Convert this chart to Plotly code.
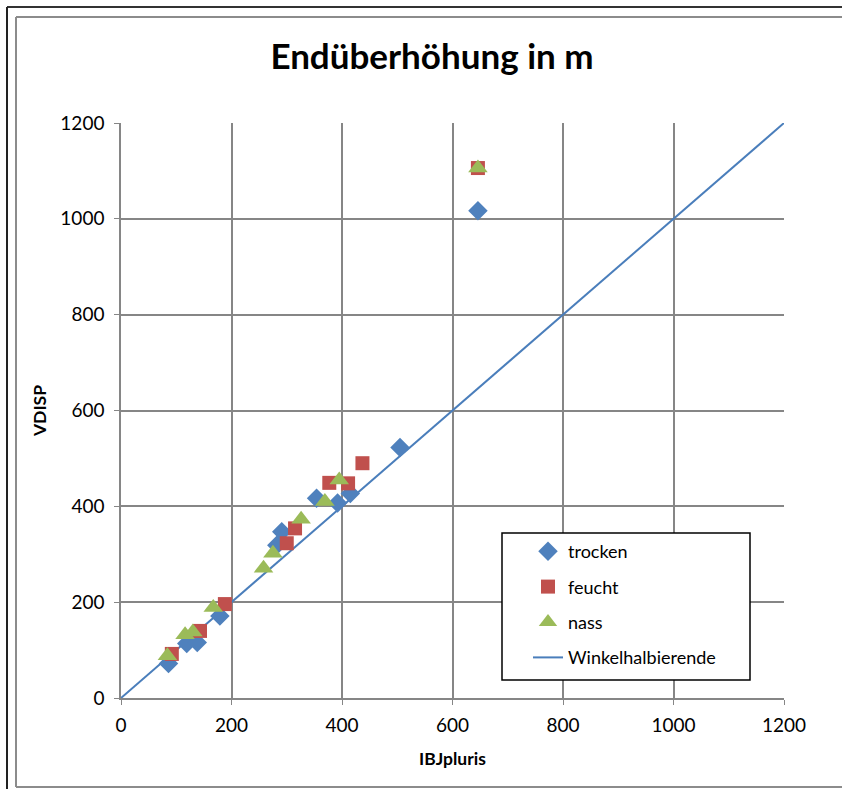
import plotly.graph_objects as go

# Endüberhöhung: VDISP vs. IBJpluris for three moisture states
trocken_x = [86, 119, 138, 179, 282, 291, 354, 392, 415, 505, 646]
trocken_y = [72, 114, 116, 171, 319, 347, 417, 407, 427, 523, 1017]

feucht_x = [92, 143, 188, 300, 315, 377, 411, 437, 646]
feucht_y = [92, 140, 196, 323, 354, 449, 448, 490, 1106]

nass_x = [84, 116, 130, 167, 258, 275, 326, 369, 395, 646]
nass_y = [88, 132, 138, 189, 271, 302, 373, 410, 455, 1106]

diag = [0, 1200]
ticks = [0, 200, 400, 600, 800, 1000, 1200]

FONT = "Lato"
GRID = "#868686"

fig = go.Figure()
# diagonal first so it sits beneath the markers; legendrank puts it last in the legend
fig.add_trace(go.Scatter(x=diag, y=diag, mode="lines", name="Winkelhalbierende",
                         legendgroup="d", legendrank=4,
                         line=dict(color="#4A7EBB", width=2)))
fig.add_trace(go.Scatter(x=trocken_x, y=trocken_y, mode="markers", name="trocken",
                         legendgroup="a", legendrank=1,
                         marker=dict(symbol="diamond", size=15, color="#4F81BD")))
fig.add_trace(go.Scatter(x=feucht_x, y=feucht_y, mode="markers", name="feucht",
                         legendgroup="b", legendrank=2,
                         marker=dict(symbol="square", size=14, color="#C0504D")))
fig.add_trace(go.Scatter(x=nass_x, y=nass_y, mode="markers", name="nass",
                         legendgroup="c", legendrank=3,
                         marker=dict(symbol="triangle-up", size=17, color="#9BBB59")))

# pixel helpers relative to the plot area
L, R, T, B = 121, 784, 123, 698
def px_x(p):
    return (p - L) / (R - L)
def px_y(p):
    return (B - p) / (B - T)

shapes = [
    # chart frame lines (outer dark, inner grey)
    dict(type="line", xref="paper", yref="paper", x0=px_x(7), x1=px_x(842), y0=px_y(7), y1=px_y(7),
         line=dict(color="#333333", width=2)),
    dict(type="line", xref="paper", yref="paper", x0=px_x(7), x1=px_x(7), y0=px_y(7), y1=px_y(789),
         line=dict(color="#222222", width=2)),
    dict(type="line", xref="paper", yref="paper", x0=px_x(16), x1=px_x(842), y0=px_y(17), y1=px_y(17),
         line=dict(color="#8c8c8c", width=2)),
    dict(type="line", xref="paper", yref="paper", x0=px_x(16), x1=px_x(16), y0=px_y(17), y1=px_y(787),
         line=dict(color="#8c8c8c", width=2)),
    dict(type="line", xref="paper", yref="paper", x0=px_x(16), x1=px_x(842), y0=px_y(787), y1=px_y(787),
         line=dict(color="#8c8c8c", width=2)),
    # legend box
    dict(type="rect", xref="paper", yref="paper", x0=px_x(502), x1=px_x(750),
         y0=px_y(680), y1=px_y(533), line=dict(color="#000000", width=1.5),
         fillcolor="white", layer="above"),
]

fig.update_layout(
    width=842, height=789,
    margin=dict(l=L, r=842 - R, t=T, b=789 - B),
    paper_bgcolor="white", plot_bgcolor="white",
    font=dict(family=FONT, size=18, color="#000000"),
    title=dict(text="<b>Endüberhöhung in m</b>", x=432 / 842, xanchor="center",
               y=1 - 57 / 789, yanchor="middle",
               font=dict(family=FONT, size=35, color="#000000")),
    xaxis=dict(range=[0, 1200], tickvals=ticks, showgrid=True, gridcolor=GRID, gridwidth=1.5,
               showline=True, linecolor=GRID, linewidth=1.5, ticks="outside", ticklen=5,
               tickcolor=GRID, zeroline=False, tickfont=dict(size=19),
               ticklabelstandoff=4,
               title=dict(text="<b>IBJpluris</b>", font=dict(size=17.5), standoff=18)),
    yaxis=dict(range=[0, 1200], tickvals=ticks, showgrid=True, gridcolor=GRID, gridwidth=1.5,
               showline=True, linecolor=GRID, linewidth=1.5, ticks="outside", ticklen=5,
               tickcolor=GRID, zeroline=False, tickfont=dict(size=19),
               ticklabelstandoff=6,
               title=dict(text="<b>VDISP</b>", font=dict(size=17.5), standoff=9)),
    legend=dict(x=px_x(528), y=px_y(533), xanchor="left", yanchor="top",
                borderwidth=0, bgcolor="rgba(0,0,0,0)",
                font=dict(family=FONT, size=18), tracegroupgap=9,
                traceorder="grouped"),
    shapes=shapes,
    showlegend=True,
)

fig.write_html("out.html")
